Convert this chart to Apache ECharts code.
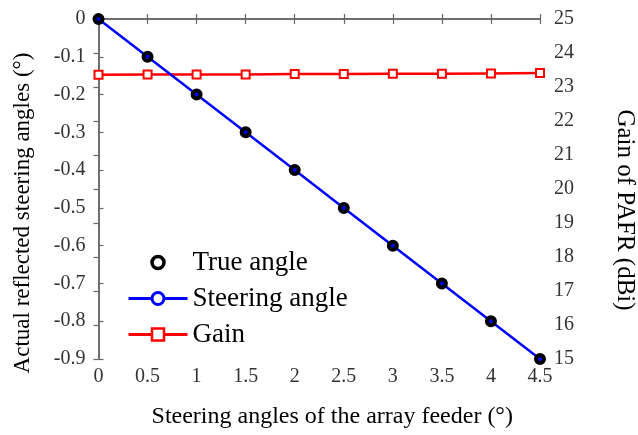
<!DOCTYPE html>
<html>
<head>
<meta charset="utf-8">
<script src="https://cdn.jsdelivr.net/npm/echarts@6/dist/echarts.min.js"></script>
<style>html,body{margin:0;padding:0;background:#fff;}#c{width:638px;height:435px;}</style>
</head>
<body>
<div id="c"></div>
<script>
const feederAngles = [0, 0.5, 1, 1.5, 2, 2.5, 3, 3.5, 4, 4.5];
const trueAngle = [0, -0.1, -0.2, -0.3, -0.4, -0.5, -0.6, -0.7, -0.8, -0.9];
const steeringAngle = [0, -0.1, -0.2, -0.3, -0.4, -0.5, -0.6, -0.7, -0.8, -0.9];
const gain = [23.36, 23.37, 23.37, 23.37, 23.38, 23.38, 23.39, 23.39, 23.40, 23.41];
const xTicks = {min: 0, max: 4.5, interval: 0.5};
const leftTicks = {min: -0.9, max: 0, interval: 0.1};
const rightTicks = {min: 15, max: 25, interval: 1};

const FONT = '"Liberation Serif", "Times New Roman", serif';
const axisCol = '#666';
const pair = arr => feederAngles.map((x, i) => [x, arr[i]]);

const chart = echarts.init(document.getElementById('c'), null, {renderer: 'canvas'});
const baseAxis = {
  axisLine: {show: true, lineStyle: {color: axisCol, width: 1.5}},
  axisTick: {show: true, inside: true, length: 5, lineStyle: {color: axisCol, width: 1.2}},
  splitLine: {show: false},
  axisLabel: {fontFamily: FONT, fontSize: 20, color: '#333'}
};
chart.setOption({
  animation: false,
  backgroundColor: '#fff',
  grid: {left: 98.5, right: 98, top: 19, bottom: 76, containLabel: false, outerBoundsMode: 'none'},
  xAxis: [
    Object.assign({}, baseAxis, {
      type: 'value', position: 'bottom', min: xTicks.min, max: xTicks.max, interval: xTicks.interval,
      name: 'Steering angles of the array feeder (°)', nameLocation: 'middle', nameGap: 46,
      nameTextStyle: {fontFamily: FONT, fontSize: 24, color: '#000', padding: [0, 0, 0, 26]},
      axisLabel: Object.assign({}, baseAxis.axisLabel, {margin: 8})
    }),
    Object.assign({}, baseAxis, {
      type: 'value', position: 'top', min: xTicks.min, max: xTicks.max, interval: xTicks.interval,
      axisLabel: {show: false}
    })
  ],
  yAxis: [
    Object.assign({}, baseAxis, {
      type: 'value', position: 'left', min: leftTicks.min, max: leftTicks.max, interval: leftTicks.interval,
      name: 'Actual reflected steering angles (°)', nameLocation: 'middle', nameGap: 64, nameRotate: 90,
      nameTextStyle: {fontFamily: FONT, fontSize: 23, color: '#000', padding: [0, 48, 0, 0]},
      axisLabel: Object.assign({}, baseAxis.axisLabel, {margin: 13, formatter: v => (Math.round(v * 10) / 10).toString()})
    }),
    Object.assign({}, baseAxis, {
      type: 'value', position: 'right', min: rightTicks.min, max: rightTicks.max, interval: rightTicks.interval,
      name: 'Gain of PAFR (dBi)', nameLocation: 'middle', nameGap: 72, nameRotate: -90,
      nameTextStyle: {fontFamily: FONT, fontSize: 25, color: '#000', padding: [0, 0, 0, 42]},
      axisLabel: Object.assign({}, baseAxis.axisLabel, {margin: 14})
    })
  ],
  legend: {
    orient: 'vertical', left: 122, top: 244,
    itemWidth: 59, itemHeight: 15, itemGap: 9,
    textStyle: {fontFamily: FONT, fontSize: 27, color: '#000'},
    data: [
      {name: 'True angle', itemStyle: {color: '#fff', borderColor: '#000', borderWidth: 3.5}},
      {name: 'Steering angle', itemStyle: {color: '#fff', borderColor: '#00f', borderWidth: 3}, lineStyle: {color: '#00f', width: 3}},
      {name: 'Gain', itemStyle: {color: '#fff', borderColor: '#f00', borderWidth: 2.5}, lineStyle: {color: '#f00', width: 3}}
    ]
  },
  series: [
    {
      name: 'Gain', type: 'line', yAxisIndex: 1, data: pair(gain),
      symbol: 'rect', symbolSize: 8,
      lineStyle: {color: '#f00', width: 2.5},
      itemStyle: {color: '#fff', borderColor: '#f00', borderWidth: 2},
      z: 2
    },
    {
      name: 'Steering angle', type: 'line', data: pair(steeringAngle),
      symbol: 'circle', symbolSize: 4,
      lineStyle: {color: '#00f', width: 2.5},
      itemStyle: {color: '#00f', borderColor: '#00f', borderWidth: 1},
      z: 3
    },
    {
      name: 'True angle', type: 'line', data: pair(trueAngle),
      symbol: 'circle', symbolSize: 8,
      lineStyle: {width: 0, opacity: 0},
      itemStyle: {color: 'rgba(0,0,0,0)', borderColor: '#000', borderWidth: 4},
      z: 4
    }
  ]
});
</script>
</body>
</html>
